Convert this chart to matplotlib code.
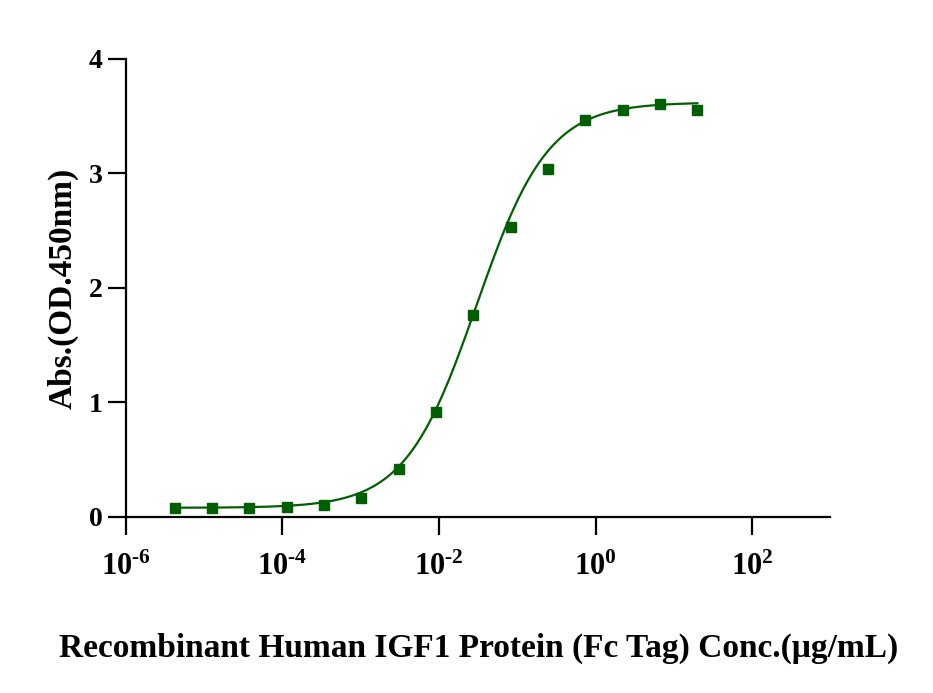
import numpy as np
import matplotlib
matplotlib.use("Agg")
import matplotlib.pyplot as plt
from matplotlib.ticker import FixedLocator, FixedFormatter

plt.rcParams["font.family"] = "Liberation Serif"
plt.rcParams["font.weight"] = "bold"
plt.rcParams["mathtext.fontset"] = "custom"
plt.rcParams["mathtext.rm"] = "Liberation Serif:bold"
plt.rcParams["mathtext.bf"] = "Liberation Serif:bold"
plt.rcParams["mathtext.it"] = "Liberation Serif:bold"

# 3-fold serial dilution from 20 ug/mL
conc = [20.0, 6.667, 2.222, 0.7407, 0.2469, 0.08230, 0.02743, 0.009145,
        0.003048, 0.001016, 0.0003387, 0.0001129, 3.763e-05, 1.254e-05, 4.181e-06]
absorb = [3.55, 3.61, 3.55, 3.47, 3.04, 2.53, 1.76, 0.92,
          0.42, 0.17, 0.105, 0.084, 0.081, 0.081, 0.081]

# 4PL fit parameters (bottom, top, logEC50, hill)
bottom, top, log_ec50, hill = 0.08, 3.62, -1.52, 0.95

xtick_vals = [1e-6, 1e-4, 1e-2, 1e0, 1e2]
xtick_labels = [r"$10^{\text{-}6}$", r"$10^{\text{-}4}$", r"$10^{\text{-}2}$",
                r"$10^{0}$", r"$10^{2}$"]
ytick_vals = [0, 1, 2, 3, 4]

green = "#005f00"

fig = plt.figure(figsize=(9.33, 6.93), dpi=100)
ax = fig.add_axes([0.135, 0.254, 0.755, 0.661])

xfit = np.logspace(np.log10(min(conc)), np.log10(max(conc)), 300)
yfit = bottom + (top - bottom) / (1 + 10 ** (hill * (log_ec50 - np.log10(xfit))))
ax.plot(xfit, yfit, color=green, lw=1.6)
ax.plot(conc, absorb, ls="none", marker="s", ms=7.5, color=green, mec=green)

ax.set_xscale("log")
ax.set_xlim(1e-6, 1e3)
ax.set_ylim(0, 4)
ax.xaxis.set_major_locator(FixedLocator(xtick_vals))
ax.xaxis.set_major_formatter(FixedFormatter(xtick_labels))
ax.xaxis.set_minor_locator(FixedLocator([]))
ax.set_yticks(ytick_vals)
ax.set_yticklabels([str(v) for v in ytick_vals])

ax.spines["top"].set_visible(False)
ax.spines["right"].set_visible(False)
for s in ["left", "bottom"]:
    ax.spines[s].set_linewidth(1.6)
ax.tick_params(axis="both", length=13, width=1.6, direction="out")
ax.tick_params(axis="x", labelsize=22, pad=13)
ax.tick_params(axis="y", labelsize=20, pad=4)

ax.set_xlabel("Recombinant Human IGF1 Protein (Fc Tag) Conc.(\u03bcg/mL)",
              fontsize=24, fontweight="bold", labelpad=36)
ax.set_ylabel("Abs.(OD.450nm)", fontsize=24, fontweight="bold", labelpad=7)

fig.savefig("out.png", dpi=100)
